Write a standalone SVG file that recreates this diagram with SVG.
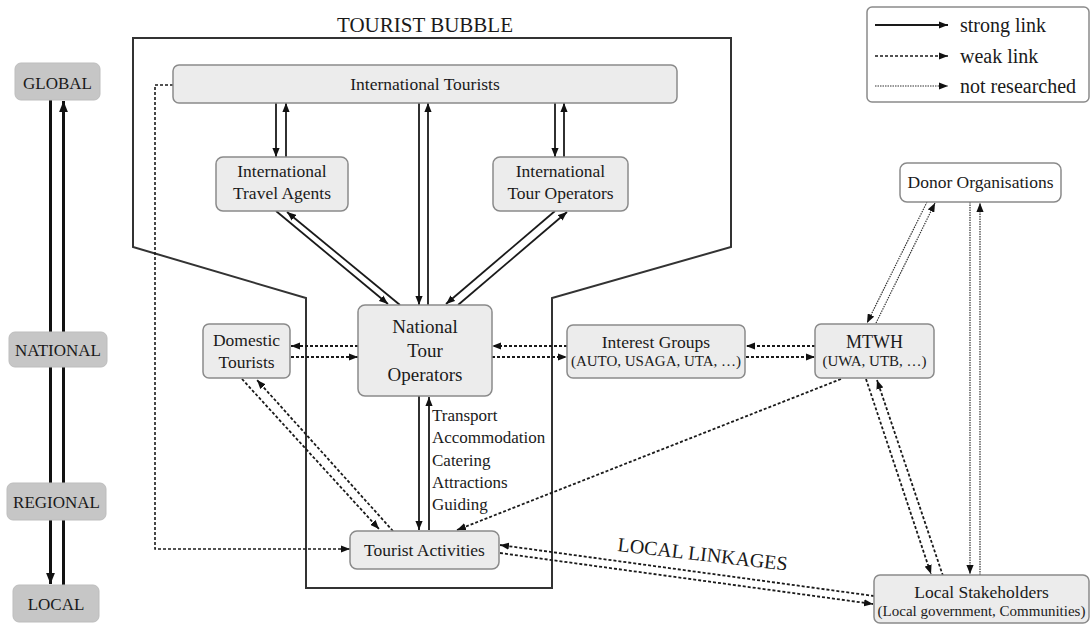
<svg xmlns="http://www.w3.org/2000/svg" width="1092" height="625" viewBox="0 0 1092 625">
<style>
text{font-family:"Liberation Serif","Times New Roman",serif;fill:#1a1a1a}
.lvl rect{fill:#c6c6c6;stroke:#bdbdbd;stroke-width:1}
.lvl text{font-size:17px;text-anchor:middle}
.nd rect{fill:#ececec;stroke:#8a8a8a;stroke-width:1.5}
.nd text{font-size:17.5px;text-anchor:middle}
.nd.wh rect{fill:#fff}
.nd text.sm{font-size:15px}
.nd text.f19{font-size:19px}
.nd text.f18{font-size:18px}
.strong{stroke:#1a1a1a;stroke-width:1.8;fill:none;marker-end:url(#ah)}
.thick{stroke:#111;stroke-width:3;fill:none}
.weak{stroke:#1a1a1a;stroke-width:1.8;stroke-dasharray:3 2;fill:none;marker-end:url(#ah)}
.nr{stroke:#333;stroke-width:1.2;stroke-dasharray:1.5 1;fill:none;marker-end:url(#ah)}
</style>
<defs>
<marker id="ah" viewBox="0 0 10 8" refX="10" refY="4" markerWidth="9" markerHeight="7.5" orient="auto" markerUnits="userSpaceOnUse"><path d="M0,0 L10,4 L0,8 z" fill="#111"/></marker>
<marker id="ahb" viewBox="0 0 10 8" refX="10" refY="4" markerWidth="11" markerHeight="9" orient="auto" markerUnits="userSpaceOnUse"><path d="M0,0 L10,4 L0,8 z" fill="#111"/></marker>
</defs>
<rect width="1092" height="625" fill="#fff"/>

<g id="bubble">
<polygon points="133,38 731,38 731,247 552,298 552,588 306,588 306,298 133,247" fill="none" stroke="#333" stroke-width="2"/>
<text x="425" y="32" font-size="21" text-anchor="middle">TOURIST BUBBLE</text>
</g>

<g id="legend">
<rect x="867" y="7" width="222" height="95" rx="5" fill="#fff" stroke="#8a8a8a" stroke-width="1.5"/>
<line x1="875" y1="25" x2="948" y2="25" class="strong"/>
<line x1="875" y1="56" x2="948" y2="56" class="weak" style="stroke-width:1.4"/>
<line x1="875" y1="86" x2="948" y2="86" class="nr"/>
<text x="960" y="32" font-size="20">strong link</text>
<text x="960" y="63" font-size="20">weak link</text>
<text x="960" y="93" font-size="20">not researched</text>
</g>

<g id="connectors">
<line x1="50.5" y1="100" x2="50.5" y2="584" class="thick" marker-end="url(#ahb)"/>
<line x1="63.5" y1="585" x2="63.5" y2="101" class="thick" marker-end="url(#ahb)"/>
<line x1="276" y1="103" x2="276" y2="157" class="strong"/>
<line x1="286" y1="157" x2="286" y2="103" class="strong"/>
<line x1="555" y1="103" x2="555" y2="157" class="strong"/>
<line x1="564" y1="157" x2="564" y2="103" class="strong"/>
<line x1="419" y1="103" x2="419" y2="305" class="strong"/>
<line x1="428" y1="305" x2="428" y2="103" class="strong"/>
<line x1="276" y1="211" x2="388" y2="304" class="strong"/>
<line x1="400" y1="305" x2="287" y2="212" class="strong"/>
<line x1="555" y1="211" x2="446" y2="304" class="strong"/>
<line x1="458" y1="305" x2="567" y2="212" class="strong"/>
<line x1="419" y1="396" x2="419" y2="530" class="strong"/>
<line x1="429" y1="530" x2="429" y2="397" class="strong"/>
<line x1="358" y1="346" x2="291" y2="346" class="weak"/>
<line x1="291" y1="357" x2="358" y2="357" class="weak"/>
<line x1="567" y1="346" x2="492" y2="346" class="weak"/>
<line x1="492" y1="357" x2="567" y2="357" class="weak"/>
<line x1="815" y1="346" x2="746" y2="346" class="weak"/>
<line x1="746" y1="357" x2="815" y2="357" class="weak"/>
<line x1="242" y1="379" x2="379" y2="529" class="weak"/>
<line x1="393" y1="531" x2="257" y2="380" class="weak"/>
<polyline points="173,85 155,85 155,549 350,549" class="weak" style="stroke-width:1.6"/>
<line x1="841" y1="379" x2="457" y2="530" class="weak"/>
<line x1="866" y1="379" x2="931" y2="574" class="weak"/>
<line x1="943" y1="576" x2="877" y2="380" class="weak"/>
<line x1="874" y1="596" x2="500" y2="545" class="weak"/>
<line x1="500" y1="553" x2="873" y2="604" class="weak"/>
<line x1="927" y1="202" x2="867" y2="323" class="nr"/>
<line x1="876" y1="323" x2="935" y2="203" class="nr"/>
<line x1="970" y1="202" x2="970" y2="574" class="nr"/>
<line x1="980" y1="575" x2="980" y2="203" class="nr"/>
<text x="617" y="551" font-size="20" transform="rotate(6.6 617 551)">LOCAL LINKAGES</text>
<g font-size="17">
<text x="432" y="421">Transport</text>
<text x="432" y="443">Accommodation</text>
<text x="432" y="466">Catering</text>
<text x="432" y="488">Attractions</text>
<text x="432" y="510">Guiding</text>
</g>
</g>

<g id="level-global" class="lvl"><rect x="15" y="63" width="85" height="37" rx="6"/><text x="57.5" y="89">GLOBAL</text></g>
<g id="level-national" class="lvl"><rect x="9" y="332" width="98" height="35" rx="6"/><text x="58" y="356">NATIONAL</text></g>
<g id="level-regional" class="lvl"><rect x="7" y="483" width="99" height="37" rx="6"/><text x="56.5" y="508">REGIONAL</text></g>
<g id="level-local" class="lvl"><rect x="13" y="585" width="86" height="37" rx="6"/><text x="56" y="610">LOCAL</text></g>

<g id="international-tourists" class="nd"><rect x="173" y="65" width="504" height="38" rx="6"/><text x="425" y="90">International Tourists</text></g>
<g id="international-travel-agents" class="nd"><rect x="216" y="157" width="132" height="54" rx="7"/><text x="282" y="177">International</text><text x="282" y="199">Travel Agents</text></g>
<g id="international-tour-operators" class="nd"><rect x="493" y="157" width="135" height="54" rx="7"/><text x="560.5" y="177">International</text><text x="560.5" y="199">Tour Operators</text></g>
<g id="national-tour-operators" class="nd"><rect x="358" y="305" width="134" height="91" rx="7"/><text x="425" y="333" class="f19">National</text><text x="425" y="357" class="f19">Tour</text><text x="425" y="381" class="f19">Operators</text></g>
<g id="domestic-tourists" class="nd"><rect x="203" y="324" width="87" height="54" rx="6"/><text x="246.5" y="346">Domestic</text><text x="246.5" y="368">Tourists</text></g>
<g id="interest-groups" class="nd"><rect x="567" y="325" width="178" height="53" rx="6"/><text x="656" y="348">Interest Groups</text><text x="656" y="366" class="sm">(AUTO, USAGA, UTA, …)</text></g>
<g id="mtwh" class="nd"><rect x="815" y="324" width="119" height="54" rx="6"/><text x="874.5" y="348" class="f18">MTWH</text><text x="874.5" y="366" class="sm">(UWA, UTB, …)</text></g>
<g id="donor-organisations" class="nd wh"><rect x="900" y="163" width="161" height="39" rx="7"/><text x="980.5" y="188">Donor Organisations</text></g>
<g id="tourist-activities" class="nd"><rect x="350" y="531" width="149" height="38" rx="7"/><text x="424.5" y="556">Tourist Activities</text></g>
<g id="local-stakeholders" class="nd"><rect x="874" y="575" width="215" height="48" rx="6"/><text x="981.5" y="598">Local Stakeholders</text><text x="981.5" y="616" class="sm">(Local government, Communities)</text></g>
</svg>
